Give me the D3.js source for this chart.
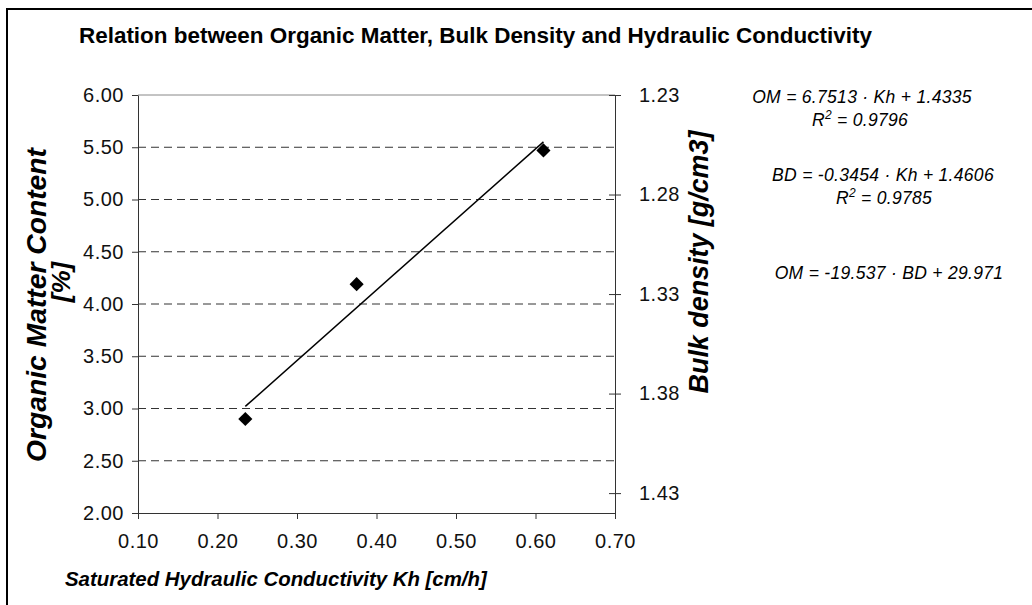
<!DOCTYPE html>
<html>
<head>
<meta charset="utf-8">
<script src="https://cdn.jsdelivr.net/npm/d3@7"></script>
<style>
  html, body { margin: 0; padding: 0; background: #fff; }
  svg { display: block; }
</style>
</head>
<body>
<div id="chart"></div>
<script>
// measured samples: saturated hydraulic conductivity vs organic matter
const khValues = [0.235, 0.375, 0.61];
const omValues = [2.90, 4.19, 5.47];

// fitted line OM = slope * Kh + intercept
const omTrend = [6.7513, 1.4335];

// axis ticks
const khTicks = [0.10, 0.20, 0.30, 0.40, 0.50, 0.60, 0.70];
const omTicks = [2.00, 2.50, 3.00, 3.50, 4.00, 4.50, 5.00, 5.50, 6.00];
const bdTicks = [1.23, 1.28, 1.33, 1.38, 1.43];

// equation labels on the right
const equationLines = [
  { main: "OM = 6.7513 · Kh + 1.4335" },
  { r2: "0.9796" },
  { main: "BD = -0.3454 · Kh + 1.4606" },
  { r2: "0.9785" },
  { main: "OM = -19.537 · BD + 29.971" }
];

const titleText = "Relation between Organic Matter, Bulk Density and Hydraulic Conductivity";
const xLabel = "Saturated Hydraulic Conductivity Kh [cm/h]";
const yLabel = ["Organic Matter Content", "[%]"];
const y2Label = "Bulk density [g/cm3]";

const width = 1032, height = 605;
const plot = { left: 138, right: 615, top: 95, bottom: 513 };
const sansFont = "'Liberation Sans', Arial, sans-serif";

const svg = d3.select("#chart").append("svg")
  .attr("width", width)
  .attr("height", height)
  .style("font-family", sansFont);

// scale a text's font so its length matches the reference
function fitLength(sel, target) {
  const w = sel.node().getComputedTextLength();
  const fs = parseFloat(sel.attr("font-size"));
  sel.attr("font-size", (fs * target / w).toFixed(2));
  return sel;
}

// outer frame (runs off the right and bottom edge)
svg.append("rect")
  .attr("x", 7).attr("y", 9)
  .attr("width", 1100).attr("height", 700)
  .attr("fill", "none")
  .attr("stroke", "#000")
  .attr("stroke-width", 2);

const x = d3.scaleLinear().domain([0.1, 0.7]).range([plot.left, plot.right]);
const y = d3.scaleLinear().domain([2, 6]).range([plot.bottom, plot.top]);
const y2 = d3.scaleLinear().domain([1.23, 1.44]).range([plot.top, plot.bottom]);

// gridlines
svg.append("g").attr("class", "grid")
  .selectAll("line")
  .data(omTicks.filter(d => d > 2 && d < 6))
  .join("line")
  .attr("x1", plot.left).attr("x2", plot.right)
  .attr("y1", d => y(d)).attr("y2", d => y(d))
  .attr("stroke", "#333")
  .attr("stroke-dasharray", "8,5");

// top border line of the plot area
svg.append("line")
  .attr("x1", plot.left).attr("x2", plot.right)
  .attr("y1", y(6)).attr("y2", y(6))
  .attr("stroke", "#888");

// axes
const tickFont = g => g.selectAll("text")
  .attr("fill", "#111")
  .style("font-size", "20px")
  .style("letter-spacing", "0.5px")
  .style("font-family", sansFont);

const axisLine = g => {
  g.select(".domain").attr("stroke", "#333");
  g.selectAll(".tick line").attr("stroke", "#333");
};

svg.append("g")
  .attr("transform", `translate(${plot.left},0)`)
  .call(d3.axisLeft(y).tickValues(omTicks).tickFormat(d3.format(".2f")).tickSize(6).tickSizeOuter(0).tickPadding(8))
  .call(axisLine)
  .call(tickFont);

svg.append("g")
  .attr("transform", `translate(0,${plot.bottom})`)
  .call(d3.axisBottom(x).tickValues(khTicks).tickFormat(d3.format(".2f")).tickSize(6).tickSizeOuter(0).tickPadding(15))
  .call(axisLine)
  .call(tickFont);

const rightAxis = svg.append("g")
  .attr("transform", `translate(${plot.right},0)`)
  .call(d3.axisRight(y2).tickValues(bdTicks).tickFormat(d3.format(".2f")).tickSize(6).tickSizeOuter(0).tickPadding(18))
  .call(axisLine)
  .call(tickFont);
// cross ticks on the secondary axis
rightAxis.selectAll(".tick line").attr("x1", -6);

// trendline
const trendX = d3.extent(khValues);
svg.append("line")
  .attr("x1", x(trendX[0])).attr("y1", y(omTrend[0] * trendX[0] + omTrend[1]))
  .attr("x2", x(trendX[1])).attr("y2", y(omTrend[0] * trendX[1] + omTrend[1]))
  .attr("stroke", "#000")
  .attr("stroke-width", 1.5);

// diamond markers
const diamond = d3.symbol().type(d3.symbolSquare).size(100);
svg.append("g")
  .selectAll("path")
  .data(khValues.map((k, i) => [k, omValues[i]]))
  .join("path")
  .attr("d", diamond)
  .attr("transform", d => `translate(${x(d[0])},${y(d[1])}) rotate(45)`)
  .attr("fill", "#000");

// title
svg.append("text")
  .attr("x", 79).attr("y", 43)
  .attr("font-size", 21.5)
  .attr("font-weight", "bold")
  .attr("fill", "#000")
  .text(titleText)
  .call(sel => fitLength(sel, 793));

// x axis title
svg.append("text")
  .attr("x", 65).attr("y", 586)
  .attr("font-size", 20)
  .attr("font-weight", "bold")
  .attr("font-style", "italic")
  .text(xLabel)
  .call(sel => fitLength(sel, 422));

// left y title, two lines
const yTitle = svg.append("g").attr("transform", "translate(0,305) rotate(-90)");
yTitle.append("text")
  .attr("x", 0).attr("y", 46)
  .attr("text-anchor", "middle")
  .attr("font-size", 26)
  .attr("font-weight", "bold")
  .attr("font-style", "italic")
  .text(yLabel[0])
  .call(sel => fitLength(sel, 314));
yTitle.append("text")
  .attr("x", 23).attr("y", 70)
  .attr("text-anchor", "middle")
  .attr("font-size", 26)
  .attr("font-weight", "bold")
  .attr("font-style", "italic")
  .text(yLabel[1]);

// right y title
svg.append("text")
  .attr("transform", "translate(708,262) rotate(-90)")
  .attr("text-anchor", "middle")
  .attr("font-size", 26)
  .attr("font-weight", "bold")
  .attr("font-style", "italic")
  .text(y2Label)
  .call(sel => fitLength(sel, 263));

// equations
const eqPos = [[862, 103], [860, 126], [883, 181], [884, 204], [889, 279]];
const eq = svg.append("g")
  .attr("font-size", 17.5)
  .attr("font-style", "italic")
  .style("letter-spacing", "0.3px")
  .attr("fill", "#000");
equationLines.forEach((line, i) => {
  const t = eq.append("text")
    .attr("x", eqPos[i][0]).attr("y", eqPos[i][1])
    .attr("text-anchor", "middle");
  if (line.main) {
    t.text(line.main);
  } else {
    t.append("tspan").text("R");
    t.append("tspan").attr("font-size", 12).attr("dy", -7).text("2");
    t.append("tspan").attr("dy", 7).text("  = " + line.r2);
  }
});
</script>
</body>
</html>
